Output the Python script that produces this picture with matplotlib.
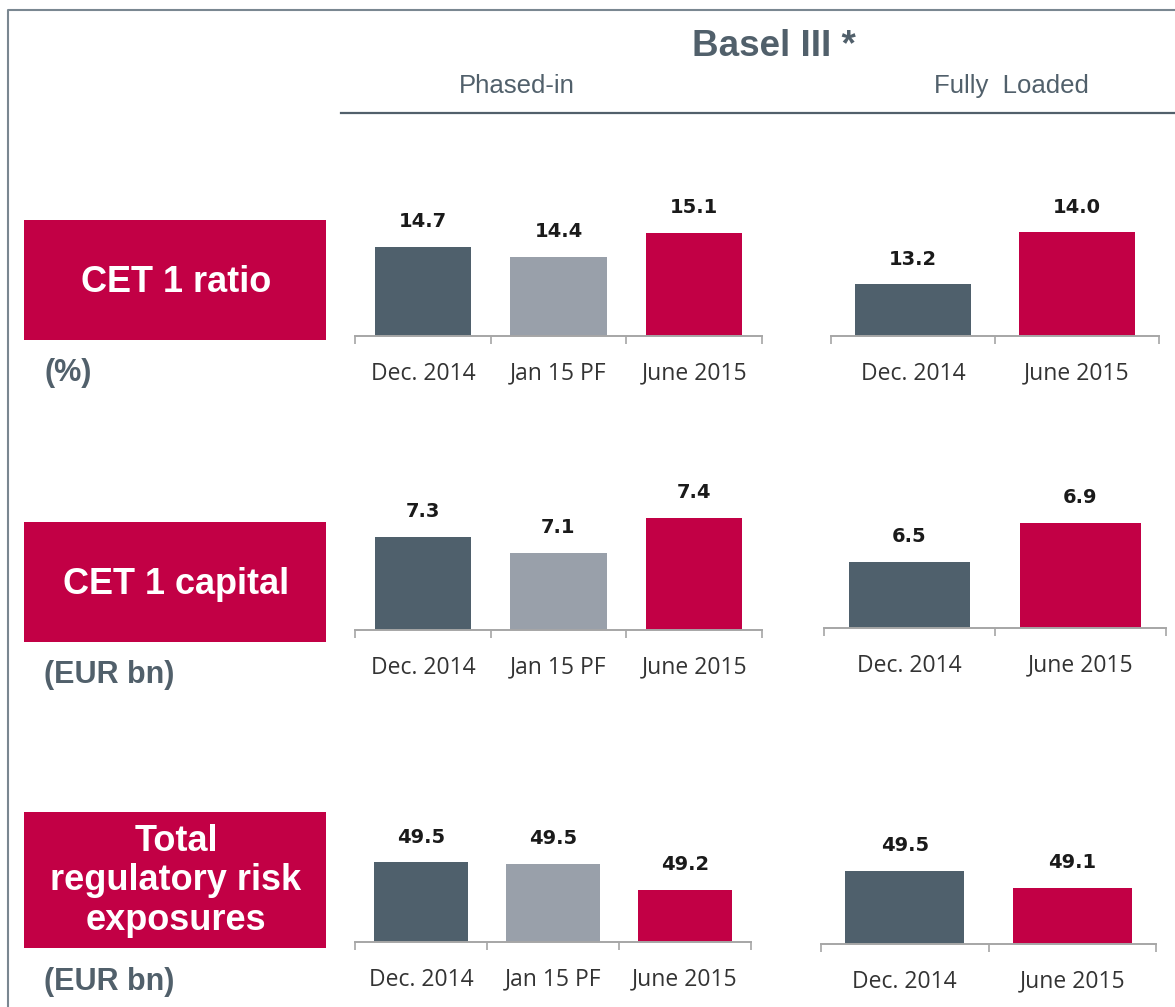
import matplotlib
matplotlib.use("Agg")
import matplotlib.pyplot as plt
from matplotlib.patches import Rectangle

# ---------------- data ----------------
phased_cats = ["Dec. 2014", "Jan 15 PF", "June 2015"]
loaded_cats = ["Dec. 2014", "June 2015"]

cet1_ratio_phased = [14.70, 14.41, 15.11]
cet1_ratio_loaded = [13.2, 14.0]
cet1_capital_phased = [7.26, 7.11, 7.44]
cet1_capital_loaded = [6.5, 6.9]
rwa_phased = [49.52, 49.50, 49.22]
rwa_loaded = [49.5, 49.1]

row_titles = ["CET 1 ratio", "CET 1 capital", "Total\nregulatory risk\nexposures"]
row_units = ["(%)", "(EUR bn)", "(EUR bn)"]
header = "Basel III *"
group_titles = ["Phased-in", "Fully  Loaded"]

# ---------------- style ----------------
DARK = "#4f606c"
LIGHT = "#99a0aa"
RED = "#c20045"
SLATE = "#51606b"
AXGREY = "#a6a6a6"
phased_colors = [DARK, LIGHT, RED]
loaded_colors = [DARK, RED]

W, H = 1175, 1007
fig = plt.figure(figsize=(W / 100, H / 100), dpi=100)
fig.patch.set_facecolor("white")

# background axes in pixel coordinates
bg = fig.add_axes([0, 0, 1, 1])
bg.set_xlim(0, W)
bg.set_ylim(H, 0)
bg.axis("off")
bg.patch.set_alpha(0)

# border
bg.plot([8, 8, W + 5], [H + 5, 10, 10], color="#7a8791", lw=1.5, solid_capstyle="butt")
# header line
bg.plot([341, W], [113, 113], color=SLATE, lw=1.6)

bg.text(774, 47, header, ha="center", va="center", fontsize=26.5, fontweight="bold",
        color=SLATE, family="Liberation Sans")
bg.text(517, 86, group_titles[0], ha="center", va="center", fontsize=18.5,
        color=SLATE, family="Liberation Sans")
bg.text(1011, 86, group_titles[1], ha="center", va="center", fontsize=18.5,
        color=SLATE, family="Liberation Sans")

boxes = [(220, 340, 282, 373), (522, 642, 584, 675), (812, 948, 881, 982)]
for (y0, y1, ty, uy), title, unit in zip(boxes, row_titles, row_units):
    bg.add_patch(Rectangle((24, y0), 302, y1 - y0, facecolor=RED, edgecolor="none"))
    bg.text(176, ty, title, ha="center", va="center", fontsize=26, fontweight="bold",
            color="white", family="Liberation Sans", linespacing=1.17)
    bg.text(44, uy, unit, ha="left", va="center", fontsize=22, fontweight="bold",
            color=SLATE, family="Liberation Sans")

# ---------------- bar charts ----------------
# (values, categories, colors, x-left px, x-right px, baseline px, ymin, px per unit)
charts = [
    (cet1_ratio_phased, phased_cats, phased_colors, 355, 762, 336, 12.08, 34.0),
    (cet1_ratio_loaded, loaded_cats, loaded_colors, 831, 1159, 336, 12.40, 65.0),
    (cet1_capital_phased, phased_cats, phased_colors, 355, 762, 630, 6.39, 107.0),
    (cet1_capital_loaded, loaded_cats, loaded_colors, 824, 1166, 628, 5.823, 97.5),
    (rwa_phased, phased_cats, phased_colors, 355, 751, 942, 48.66, 93.0),
    (rwa_loaded, loaded_cats, loaded_colors, 821, 1156, 944, 47.78, 42.5),
]

AXH = 160
for vals, cats, cols, x0, x1, base, ymin, k in charts:
    ax = fig.add_axes([x0 / W, 1 - base / H, (x1 - x0) / W, AXH / H])
    n = len(vals)
    xs = list(range(n))
    ax.bar(xs, vals, width=0.71, color=cols, edgecolor="none", zorder=2)
    ax.set_xlim(-0.5, n - 0.5)
    ax.set_ylim(ymin, ymin + AXH / k)
    for s in ["top", "left", "right"]:
        ax.spines[s].set_visible(False)
    ax.spines["bottom"].set_color(AXGREY)
    ax.spines["bottom"].set_linewidth(1.4)
    ax.set_yticks([])
    ax.set_xticks([i - 0.5 for i in range(n + 1)])
    ax.set_xticklabels([])
    ax.tick_params(axis="x", direction="out", length=6, width=1.2, color=AXGREY)
    ax.patch.set_alpha(0)
    for i, (v, c) in enumerate(zip(vals, cats)):
        ax.annotate(f"{v:.1f}", xy=(i, v), xytext=(0, 18), textcoords="offset points",
                    ha="center", va="center", fontsize=14, fontweight="bold",
                    color="#1a1a1a", family="DejaVu Sans", annotation_clip=False)
        ax.annotate(c, xy=(i, 0), xycoords=("data", "axes fraction"), xytext=(0, -27),
                    textcoords="offset points", ha="center", va="center", fontsize=16.5,
                    color="#333333", family="Open Sans", annotation_clip=False)

fig.savefig("out.png", dpi=100, facecolor="white")
